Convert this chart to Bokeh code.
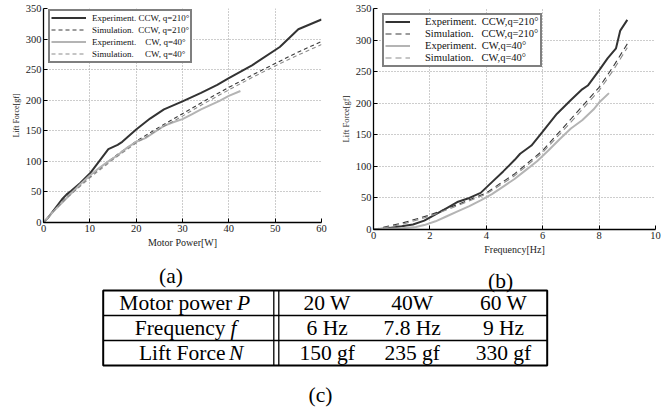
from bokeh.plotting import figure
from bokeh.layouts import column, row
from bokeh.models import Legend, LegendItem, Range1d, FixedTicker, ColumnDataSource
from bokeh.embed import file_html
from bokeh.resources import INLINE
from bokeh.core.properties import value

FONT = "Liberation Serif"

# ---------------- data: (a) lift force vs motor power ----------------
power_exp_ccw = [0, 1, 2, 4, 5, 6, 8, 10, 12, 14, 16, 17, 20, 23, 26, 30, 34, 37.5, 40, 45, 51, 55, 60]
lift_exp_ccw_a = [0, 8, 18, 38, 46, 52, 65, 80, 100, 120, 127, 132, 152, 170, 185, 198, 212, 225, 236, 257, 287, 316, 332]
power_sim = [0, 2, 5, 10, 15, 20, 25, 30, 35, 40, 45, 50, 55, 60]
lift_sim_ccw_a = [0, 18, 42, 75, 106, 133, 156, 178, 200, 221, 241, 260, 279, 296]
lift_sim_cw_a = [0, 17, 40, 73, 103, 130, 153, 174, 196, 217, 237, 256, 274, 291]
power_exp_cw = [0, 2, 5, 8, 10, 12, 14, 16, 18, 20, 22, 24, 26, 28, 30, 32, 34, 36, 38, 40, 42.5]
lift_exp_cw_a = [0, 17, 40, 63, 77, 89, 100, 110, 122, 132, 138, 148, 158, 164, 169, 177, 185, 192, 199, 207, 215]

# ---------------- data: (b) lift force vs frequency ----------------
freq_exp_ccw = [0, 0.5, 1, 1.4, 1.8, 2.2, 2.6, 3, 3.4, 3.8, 4.2, 4.6, 5, 5.2, 5.6, 6, 6.5, 7, 7.4, 7.6, 8, 8.3, 8.6, 8.75, 9]
lift_exp_ccw_b = [0, 2, 5, 8, 14, 24, 34, 44, 50, 58, 75, 92, 110, 120, 133, 155, 183, 205, 222, 228, 252, 271, 287, 315, 332]
freq_sim = [0, 0.5, 1, 2, 3, 4, 5, 6, 7, 8, 8.5, 9]
lift_sim_ccw_b = [0, 5, 10, 23, 40, 58, 88, 125, 175, 225, 258, 294]
lift_sim_cw_b = [0, 4, 8, 21, 38, 56, 85, 122, 170, 220, 252, 288]
freq_exp_cw = [0, 0.5, 1, 1.5, 1.8, 2.2, 2.6, 3, 3.4, 3.8, 4.2, 4.6, 5, 5.4, 5.8, 6.2, 6.6, 7, 7.4, 7.8, 8, 8.35]
lift_exp_cw_b = [0, 1, 2, 4, 7, 13, 21, 29, 37, 46, 56, 68, 80, 94, 108, 125, 143, 160, 173, 190, 201, 216]

x_ticks_a = [0, 10, 20, 30, 40, 50, 60]
x_ticks_b = [0, 2, 4, 6, 8, 10]
y_ticks = [0, 50, 100, 150, 200, 250, 300, 350]

legend_a = ["Experiment. CCW, q=210\u00b0",
            "Simulation.\u00a0\u00a0CCW, q=210\u00b0",
            "Experiment.\u00a0\u00a0\u00a0\u00a0CW, q=40\u00b0",
            "Simulation.\u00a0\u00a0\u00a0\u00a0\u00a0CW, q=40\u00b0"]
legend_b = ["Experiment.\u00a0\u00a0CCW,q=210\u00b0",
            "Simulation.\u00a0\u00a0\u00a0CCW,q=210\u00b0",
            "Experiment.\u00a0\u00a0CW,q=40\u00b0",
            "Simulation.\u00a0\u00a0\u00a0CW,q=40\u00b0"]

# ---------------- table (c) ----------------
row_names = ["Motor power", "Frequency", "Lift Force"]
row_symbols = ["P", "f", "N"]
row_values = [["20 W", "40W", "60 W"],
              ["6 Hz", "7.8 Hz", "9 Hz"],
              ["150 gf", "235 gf", "330 gf"]]
panel_labels = ["(a)", "(b)", "(c)"]

DARK = "#333333"
LIGHT = "#b4b4b4"
SIMDARK = "#3a3a3a"
SIMLIGHT = "#8c8c8c"


def style(p, xlabel, ylabel, xticks, ylab_size):
    p.outline_line_color = None
    p.background_fill_color = "white"
    p.border_fill_color = "white"
    p.xaxis.ticker = FixedTicker(ticks=xticks)
    p.yaxis.ticker = FixedTicker(ticks=y_ticks)
    p.xaxis.axis_label = xlabel
    p.yaxis.axis_label = ylabel
    for ax in (p.xaxis[0], p.yaxis[0]):
        ax.axis_line_color = "black"
        ax.axis_line_width = 1.3
        ax.major_tick_in = 4
        ax.major_tick_out = 0
        ax.major_tick_line_color = "black"
        ax.minor_tick_line_color = None
        ax.major_label_text_font = FONT
        ax.major_label_text_font_size = "10.5px"
        ax.major_label_text_color = "#222222"
        ax.axis_label_text_font = FONT
        ax.axis_label_text_font_style = "normal"
        ax.axis_label_text_color = "#222222"
        ax.major_label_standoff = 2
        ax.axis_label_standoff = 2
    p.xaxis.axis_label_text_font_size = "10px"
    p.yaxis.axis_label_text_font_size = ylab_size
    for g in (p.xgrid[0], p.ygrid[0]):
        g.grid_line_color = "#9a9a9a"
        g.grid_line_dash = "1 2"
        g.grid_line_width = 1


def add_legend(p, renderers, labels, loc, font_size, glyph_w, standoff):
    items = [LegendItem(label=l, renderers=[r]) for l, r in zip(labels, renderers)]
    lg = Legend(items=items, location=loc)
    lg.border_line_color = "black"
    lg.border_line_width = 2
    lg.background_fill_color = "white"
    lg.background_fill_alpha = 1
    lg.label_text_font = FONT
    lg.label_text_font_size = font_size
    lg.label_text_color = "#111111"
    lg.glyph_width = glyph_w
    lg.glyph_height = 11
    lg.label_height = 12
    lg.label_standoff = standoff
    lg.padding = 1
    lg.spacing = 0
    lg.margin = 0
    p.add_layout(lg)


# ---------------- figure (a) ----------------
pa = figure(frame_width=278, frame_height=214, min_border_left=43, min_border_right=14,
            min_border_top=8, min_border_bottom=33, x_range=Range1d(0, 60), y_range=Range1d(0, 350),
            output_backend="svg", toolbar_location=None, title=None)
style(pa, "Motor Power[W]", "Lift Force[gf]", x_ticks_a, "8px")
ra1 = pa.line(power_exp_ccw, lift_exp_ccw_a, line_color=DARK, line_width=2)
ra2 = pa.line(power_sim, lift_sim_ccw_a, line_color=SIMDARK, line_width=1.1, line_dash="4 3")
ra3 = pa.line(power_exp_cw, lift_exp_cw_a, line_color=LIGHT, line_width=2)
ra4 = pa.line(power_sim, lift_sim_cw_a, line_color=SIMLIGHT, line_width=1.1, line_dash="4 3")
add_legend(pa, [ra1, ra2, ra3, ra4], legend_a, (5, 159.5), "9px", 35, 6)

# ---------------- figure (b) ----------------
pb = figure(frame_width=282, frame_height=221, min_border_left=38, min_border_right=16,
            min_border_top=6, min_border_bottom=28, x_range=Range1d(0, 10), y_range=Range1d(0, 350),
            output_backend="svg", toolbar_location=None, title=None)
style(pb, "Frequency[Hz]", "Lift Force[gf]", x_ticks_b, "8.5px")
rb1 = pb.line(freq_exp_ccw, lift_exp_ccw_b, line_color=DARK, line_width=2)
rb2 = pb.line(freq_sim, lift_sim_ccw_b, line_color=SIMDARK, line_width=1.1, line_dash="6 4")
rb3 = pb.line(freq_exp_cw, lift_exp_cw_b, line_color=LIGHT, line_width=2)
rb4 = pb.line(freq_sim, lift_sim_cw_b, line_color=SIMLIGHT, line_width=1.1, line_dash="6 4")
add_legend(pb, [rb1, rb2, rb3, rb4], legend_b, (9, 162.5), "10.5px", 25, 15)

# ---------------- bottom panel: labels + table ----------------
pc = figure(width=671, height=153, x_range=Range1d(0, 671), y_range=Range1d(408, 255),
            min_border=0, output_backend="svg", toolbar_location=None, title=None)
pc.axis.visible = False
pc.grid.visible = False
pc.outline_line_color = None

# layout (page pixel coordinates)
T_LEFT, T_RIGHT, T_TOP, ROW_H = 102.7, 546.7, 290.0, 25.0
DBL = [273.3, 278.3]
VAL_X = [326.7, 411.7, 503.0]
SPLIT_X = [231.7, 225.0, 225.0]
SYM_X = [236.5, 230.0, 228.5]
LABEL_POS = [(170.5, 275.0), (500.0, 280.0), (320.0, 394.0)]
FS = "21.5px"

n_rows = len(row_names)
t_bottom = T_TOP + n_rows * ROW_H
pc.quad(left=[T_LEFT], right=[T_RIGHT], top=[T_TOP], bottom=[t_bottom],
        fill_color=None, line_color="black", line_width=2)
hy = [T_TOP + (i + 1) * ROW_H for i in range(n_rows - 1)]
pc.segment(x0=[T_LEFT] * len(hy), x1=[T_RIGHT] * len(hy), y0=hy, y1=hy, line_color="black", line_width=1.3)
pc.segment(x0=DBL, x1=DBL, y0=[T_TOP] * 2, y1=[t_bottom] * 2, line_color="black", line_width=1.3)

row_y = [T_TOP + (i + 0.5) * ROW_H - 0.5 for i in range(n_rows)]
src_names = ColumnDataSource(dict(x=SPLIT_X, y=row_y, t=row_names))
pc.text(x="x", y="y", text="t", source=src_names, text_font=value(FONT), text_font_size=FS,
        text_align="right", text_baseline="middle", text_color="black")
src_syms = ColumnDataSource(dict(x=SYM_X, y=row_y, t=row_symbols))
pc.text(x="x", y="y", text="t", source=src_syms, text_font=value(FONT), text_font_size=FS,
        text_font_style="italic", text_align="left", text_baseline="middle", text_color="black")
vx, vy, vt = [], [], []
for i, vals in enumerate(row_values):
    for j, v in enumerate(vals):
        vx.append(VAL_X[j])
        vy.append(row_y[i])
        vt.append(v)
pc.text(x=vx, y=vy, text=vt, text_font=value(FONT), text_font_size=FS,
        text_align="center", text_baseline="middle", text_color="black")
pc.text(x=[p[0] for p in LABEL_POS], y=[p[1] for p in LABEL_POS], text=panel_labels,
        text_font=value(FONT), text_font_size=FS, text_align="center", text_baseline="middle",
        text_color="black")

layout = column(row(pa, pb), pc)
open("out.html", "w").write(file_html(layout, INLINE))
